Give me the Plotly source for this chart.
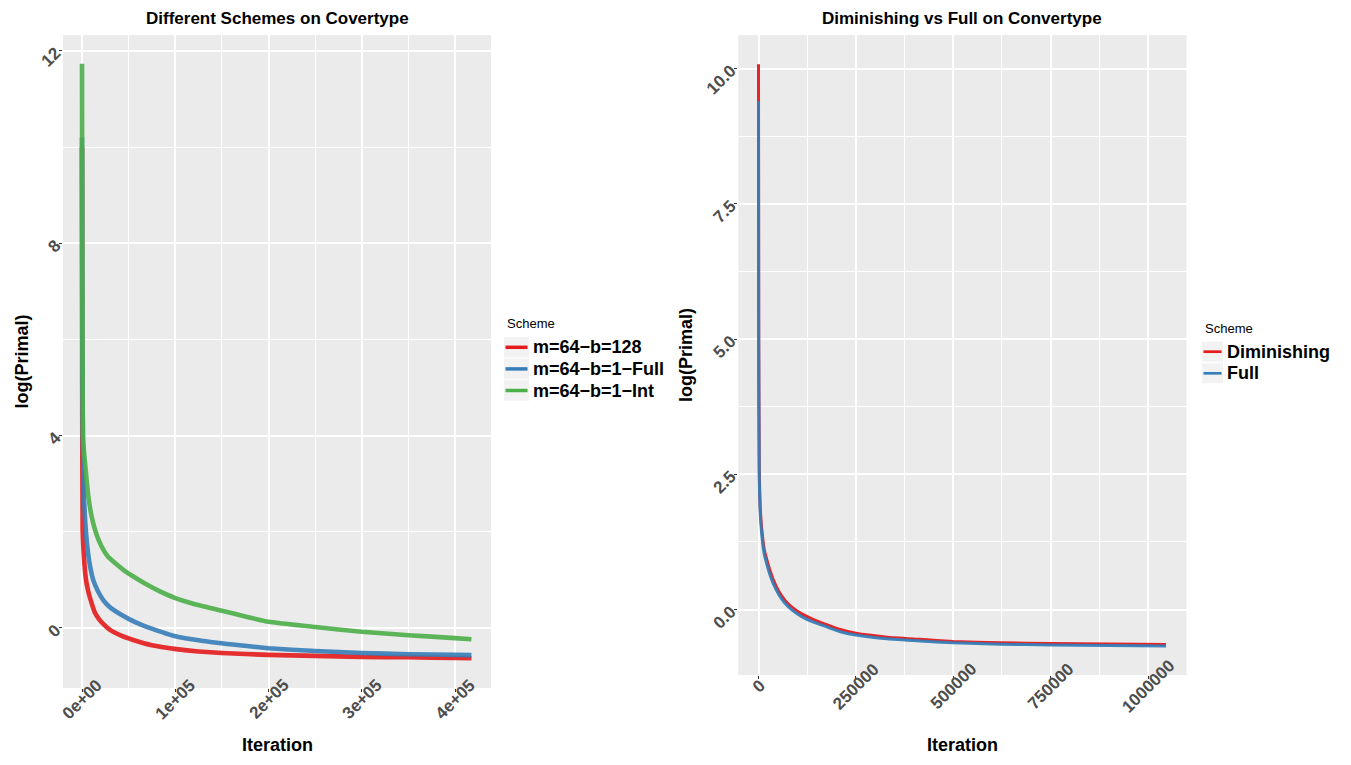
import plotly.graph_objects as go

# ---------------- data ----------------
# Left panel: Different Schemes on Covertype
left_iter_red = [0, 200, 700, 2000, 4300, 6500, 9000, 14000, 18000, 22000, 30000, 42000, 55000,
                 75000, 101000, 125000, 150000, 200000, 250000, 300000, 350000, 400000, 417600]
left_val_red = [10.0, 5.0, 2.04, 1.5, 1.0, 0.78, 0.6, 0.31, 0.19, 0.1, -0.04, -0.16, -0.25,
                -0.36, -0.44, -0.49, -0.52, -0.56, -0.58, -0.6, -0.61, -0.625, -0.63]

left_iter_blue = [0, 300, 1000, 2100, 3500, 5700, 8500, 12000, 17000, 22800, 30000, 39000, 50000,
                  62000, 80000, 98000, 130000, 169000, 200000, 250000, 300000, 350000, 400000,
                  417600]
left_val_blue = [10.2, 6.0, 3.8, 2.74, 2.2, 1.69, 1.3, 1.0, 0.77, 0.58, 0.43, 0.31, 0.19,
                 0.08, -0.05, -0.16, -0.27, -0.36, -0.42, -0.48, -0.52, -0.545, -0.56, -0.565]

left_iter_green = [0, 300, 1000, 2000, 3200, 6800, 10000, 14000, 18000, 22800, 28000, 35400, 45000,
                   55000, 68000, 83600, 100000, 120000, 150000, 175000, 200000, 250000, 300000,
                   350000, 400000, 417600]
left_val_green = [11.73, 7.0, 4.0, 3.7, 3.44, 2.74, 2.35, 2.04, 1.82, 1.63, 1.48, 1.35, 1.2,
                  1.07, 0.92, 0.76, 0.62, 0.5, 0.36, 0.24, 0.13, 0.02, -0.08,
                  -0.15, -0.21, -0.235]

left_names = ["m=64\u2212b=128", "m=64\u2212b=1\u2212Full", "m=64\u2212b=1\u2212Int"]

# Right panel: Diminishing vs Full on Convertype
right_iter = [0, 500, 2000, 5000, 10800, 15000, 21000, 29000, 38000, 52000, 68000, 88000, 111000,
              140000, 175000, 210000, 250000, 330000, 414500, 500000, 620000, 750000, 900000,
              1046000]
right_val_dim = [10.08, 5.4, 2.6, 1.8, 1.32, 1.1, 0.93, 0.73, 0.55, 0.34, 0.17, 0.03, -0.08,
                 -0.18, -0.28, -0.37, -0.44, -0.51, -0.55, -0.59, -0.615, -0.63, -0.638, -0.645]
right_val_full = [9.4, 5.0, 2.45, 1.7, 1.22, 1.02, 0.85, 0.65, 0.48, 0.28, 0.115, -0.02, -0.13,
                  -0.23, -0.32, -0.41, -0.47, -0.54, -0.58, -0.615, -0.64, -0.655, -0.665, -0.675]
right_names = ["Diminishing", "Full"]

left_xticks = [0, 100000, 200000, 300000, 400000]
left_xlabels = ["0e+00", "1e+05", "2e+05", "3e+05", "4e+05"]
left_yticks = [0, 4, 8, 12]
right_xticks = [0, 250000, 500000, 750000, 1000000]
right_xlabels = ["0", "250000", "500000", "750000", "1000000"]
right_yticks = [0, 2.5, 5.0, 7.5, 10.0]
right_ylabels = ["0.0", "2.5", "5.0", "7.5", "10.0"]

RED, BLUE, GREEN = "#E41A1C", "#377EB8", "#4DAF4A"

# ---------------- layout geometry (window pixels) ----------------
OFF = 8                      # default page body margin
W, H = 1351 - 2 * OFF, 765 - 2 * OFF

def px(x):
    return (x - OFF) / W

def py(y):
    return 1 - (y - OFF) / H

L_left, L_right, L_top, L_bot = 63, 491, 35, 688
R_left, R_right, R_top, R_bot = 738.3, 1186.5, 35, 675

FONT = "Liberation Sans, Arial, sans-serif"
TICKCOL = "#4D4D4D"

fig = go.Figure()

for xs, ys, c in [(left_iter_red, left_val_red, RED),
                  (left_iter_blue, left_val_blue, BLUE),
                  (left_iter_green, left_val_green, GREEN)]:
    fig.add_trace(go.Scatter(x=xs, y=ys, mode="lines", xaxis="x", yaxis="y",
                             line=dict(color=c, width=4.6, shape="spline", smoothing=0.4),
                             opacity=0.9, showlegend=False, hoverinfo="skip"))

for ys, c in [(right_val_dim, RED), (right_val_full, BLUE)]:
    fig.add_trace(go.Scatter(x=right_iter, y=ys, mode="lines", xaxis="x2", yaxis="y2",
                             line=dict(color=c, width=3, shape="spline", smoothing=0.4),
                             opacity=0.95, showlegend=False, hoverinfo="skip"))

common_axis = dict(showline=False, zeroline=False, showgrid=True, gridcolor="white",
                   gridwidth=1.6, ticks="outside", ticklen=3, tickcolor="#333333",
                   tickwidth=1, automargin=False, fixedrange=True)

fig.update_layout(
    width=W, height=H,
    margin=dict(l=0, r=0, t=0, b=0),
    paper_bgcolor="white",
    plot_bgcolor="#EBEBEB",
    font=dict(family=FONT),
    showlegend=False,
    xaxis=dict(domain=[px(L_left), px(L_right)], range=[-20375, 438600],
               tickmode="array", tickvals=left_xticks, showticklabels=False,
               minor=dict(dtick=50000, tick0=0, showgrid=True, gridcolor="white",
                          gridwidth=0.9, ticklen=0),
               anchor="y", **common_axis),
    yaxis=dict(domain=[py(L_bot), py(L_top)], range=[-1.248, 12.33],
               tickmode="array", tickvals=left_yticks, ticktext=[str(v) for v in left_yticks],
               tickangle=-45, tickfont=dict(size=17, color=TICKCOL, family=FONT, weight="bold"),
               minor=dict(dtick=2, tick0=0, showgrid=True, gridcolor="white",
                          gridwidth=0.9, ticklen=0),
               anchor="x", **common_axis),
    xaxis2=dict(domain=[px(R_left), px(R_right)], range=[-51850, 1098600],
                tickmode="array", tickvals=right_xticks, showticklabels=False,
                minor=dict(dtick=125000, tick0=0, showgrid=True, gridcolor="white",
                           gridwidth=0.9, ticklen=0),
                anchor="y2", **common_axis),
    yaxis2=dict(domain=[py(R_bot), py(R_top)], range=[-1.21, 10.62],
                tickmode="array", tickvals=right_yticks, ticktext=right_ylabels,
                tickangle=-45, tickfont=dict(size=17, color=TICKCOL, family=FONT, weight="bold"),
                minor=dict(dtick=1.25, tick0=0, showgrid=True, gridcolor="white",
                           gridwidth=0.9, ticklen=0),
                anchor="x2", **common_axis),
)

ann = []
# x tick labels, centered on the tick and rotated (ggplot style)
for v, t in zip(left_xticks, left_xlabels):
    ann.append(dict(x=v, xref="x", y=py(L_bot + 11), yref="paper", text=t, showarrow=False,
                    textangle=-45, xanchor="center", yanchor="middle",
                    font=dict(size=17, color=TICKCOL, family=FONT, weight="bold")))
for v, t in zip(right_xticks, right_xlabels):
    ann.append(dict(x=v, xref="x2", y=py(R_bot + 11), yref="paper", text=t, showarrow=False,
                    textangle=-45, xanchor="center", yanchor="middle",
                    font=dict(size=17, color=TICKCOL, family=FONT, weight="bold")))

# panel titles
ann.append(dict(x=px((L_left + L_right) / 2), y=py(19), xref="paper", yref="paper",
                text="Different Schemes on Covertype", showarrow=False,
                xanchor="center", yanchor="middle",
                font=dict(size=17, color="black", family=FONT, weight="bold")))
ann.append(dict(x=px((R_left + R_right) / 2), y=py(19), xref="paper", yref="paper",
                text="Diminishing vs Full on Convertype", showarrow=False,
                xanchor="center", yanchor="middle",
                font=dict(size=17, color="black", family=FONT, weight="bold")))
# axis titles
for xc in [(L_left + L_right) / 2, (R_left + R_right) / 2]:
    ann.append(dict(x=px(xc), y=py(745), xref="paper", yref="paper", text="Iteration",
                    showarrow=False, xanchor="center", yanchor="middle",
                    font=dict(size=18, color="black", family=FONT, weight="bold")))
ann.append(dict(x=px(21), y=py((L_top + L_bot) / 2), xref="paper", yref="paper",
                text="log(Primal)", textangle=-90, showarrow=False,
                xanchor="center", yanchor="middle",
                font=dict(size=18, color="black", family=FONT, weight="bold")))
ann.append(dict(x=px(686), y=py((R_top + R_bot) / 2), xref="paper", yref="paper",
                text="log(Primal)", textangle=-90, showarrow=False,
                xanchor="center", yanchor="middle",
                font=dict(size=18, color="black", family=FONT, weight="bold")))

shapes = []

def legend(x0, title_y, first_y, step, names, colors, kw, half, lw, text_x):
    ann.append(dict(x=px(x0 + 1), y=py(title_y), xref="paper", yref="paper", text="Scheme",
                    showarrow=False, xanchor="left", yanchor="middle",
                    font=dict(size=13, color="black", family=FONT)))
    for i, (n, c) in enumerate(zip(names, colors)):
        yc = first_y + i * step
        shapes.append(dict(type="rect", xref="paper", yref="paper",
                           x0=px(x0), x1=px(x0 + kw), y0=py(yc - half), y1=py(yc + half),
                           fillcolor="#F2F2F2", line=dict(width=0)))
        shapes.append(dict(type="line", xref="paper", yref="paper",
                           x0=px(x0 + 1.5), x1=px(x0 + kw - 1.5), y0=py(yc), y1=py(yc),
                           line=dict(color=c, width=lw)))
        ann.append(dict(x=px(text_x), y=py(yc), xref="paper", yref="paper", text=n,
                        showarrow=False, xanchor="left", yanchor="middle",
                        font=dict(size=18, color="black", family=FONT, weight="bold")))

legend(504, 324, 347.3, 21.6, left_names, [RED, BLUE, GREEN], 25, 10.3, 3.5, 531)
legend(1202, 328, 351.7, 21.6, right_names, [RED, BLUE], 21, 10.0, 2.7, 1225)

fig.update_layout(annotations=ann, shapes=shapes)
fig.write_html("out.html")
